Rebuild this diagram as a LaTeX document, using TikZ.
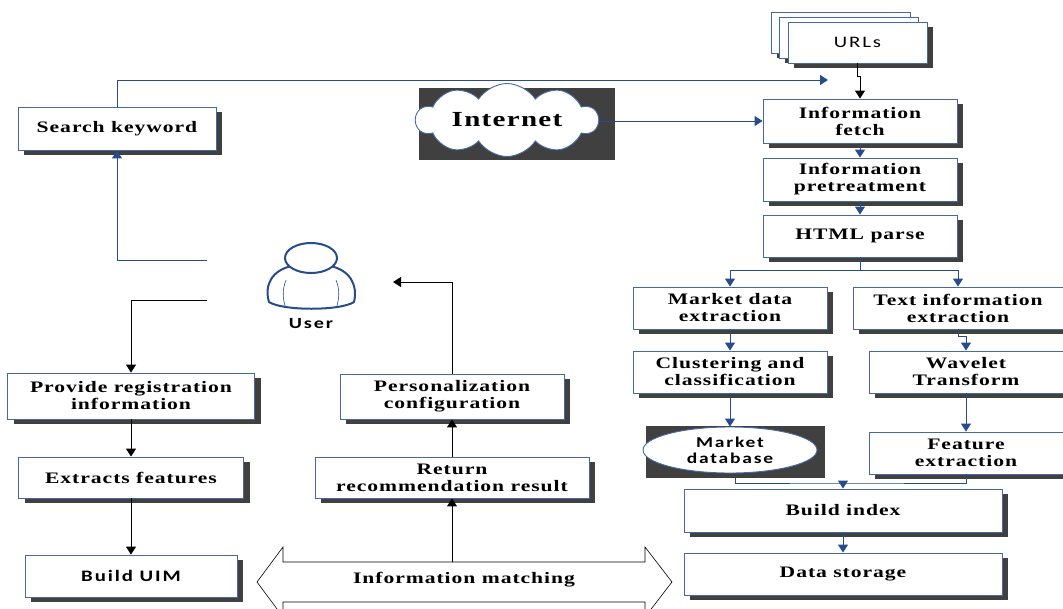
\documentclass[tikz,border=0pt]{standalone}
\usepackage{fontspec}
\setmainfont{Liberation Serif}[FakeStretch=1.35,LetterSpace=6]
\newfontfamily\sfb{Carlito}[FakeStretch=1.3,LetterSpace=12]
\usetikzlibrary{shapes.symbols,shapes.geometric,shadows,arrows.meta}
\definecolor{boxblue}{RGB}{70,105,165}
\definecolor{lineblue}{RGB}{40,75,140}
\definecolor{shade}{RGB}{64,64,64}
\tikzset{
  box/.style={draw=boxblue, line width=0.9pt, fill=white, align=center, inner sep=0pt,
    font=\fontsize{16}{17}\selectfont\bfseries,
    general shadow={fill=shade, shadow xshift=6pt, shadow yshift=-5pt}},
  sbox/.style={box, font=\sfb\fontsize{16}{17}\selectfont\bfseries},
  tip/.style={-{Triangle[width=10pt,length=8pt]}},
  bl/.style={draw=lineblue, line width=1pt, tip},
  bk/.style={draw=black, line width=1pt, tip},
  plainbl/.style={draw=lineblue, line width=1pt},
  darkbg/.style={fill=shade, inner sep=0pt},
}
\begin{document}
\begin{tikzpicture}[x=1pt,y=-1pt]
\useasboundingbox (0,0) rectangle (1063,608);
% URLs stack
\node[box, font=\sfb\fontsize{16}{18}\selectfont, minimum width=139pt, minimum height=41pt] (u1) at (840.5,32.5) {};
\node[box, font=\sfb\fontsize{16}{18}\selectfont, minimum width=139pt, minimum height=41pt] (u2) at (848.5,37.5) {};
\node[box, font=\sfb\fontsize{16}{18}\selectfont, minimum width=139pt, minimum height=41pt] (u3) at (857.5,42.5) {URLs};
% right column
\node[box, minimum width=194pt, minimum height=44pt] (fetch) at (860,121) {Information\\fetch};
\node[box, minimum width=194pt, minimum height=43pt] (pre) at (860,179.5) {Information\\pretreatment};
\node[box, minimum width=194pt, minimum height=42pt] (html) at (860,236) {HTML parse};
\node[box, minimum width=194pt, minimum height=42pt] (mde) at (730,308) {Market data\\extraction};
\node[box, minimum width=210pt, minimum height=42pt] (tie) at (958,308) {Text information\\extraction};
\node[box, minimum width=194pt, minimum height=42pt] (clu) at (730,372) {Clustering and\\classification};
\node[box, minimum width=194pt, minimum height=42pt] (wav) at (966,372) {Wavelet\\Transform};
\node[darkbg, minimum width=179pt, minimum height=52pt] (mdbbg) at (735.5,452) {};
\node[ellipse, draw=boxblue, line width=0.9pt, fill=white, inner sep=0pt, align=center,
  font=\sfb\fontsize{15}{16}\selectfont\bfseries, minimum width=174pt, minimum height=46pt] (mdb) at (730,450) {Market\\database};
\node[box, minimum width=194pt, minimum height=42pt] (fex) at (966,453) {Feature\\extraction};
\node[box, minimum width=318pt, minimum height=43pt] (bidx) at (843,510.5) {Build index};
\node[box, minimum width=318pt, minimum height=42pt] (dst) at (843,574) {Data storage};
% Internet
\node[darkbg, minimum width=196pt, minimum height=72pt] (netbg) at (517,124) {};
\node[cloud, cloud puffs=10, cloud puff arc=115, aspect=3.2, draw=boxblue, line width=0.9pt, fill=white,
  inner sep=0pt, minimum width=182pt, minimum height=60pt, font=\fontsize{21.5}{23}\selectfont\bfseries] (net) at (507,120) {Internet};
% left column
\node[box, minimum width=198pt, minimum height=43pt] (sk) at (117,128.5) {Search keyword};
\node[box, minimum width=247pt, minimum height=46pt] (reg) at (131,396) {Provide registration\\information};
\node[box, minimum width=225pt, minimum height=41pt] (ext) at (131,477.5) {Extracts features};
\node[sbox, minimum width=212pt, minimum height=42pt] (uim) at (131,576) {Build UIM};
% middle column
\node[box, minimum width=224pt, minimum height=45pt] (pers) at (452,396.5) {Personalization\\configuration};
\node[box, minimum width=274pt, minimum height=41pt] (ret) at (452,477.5) {Return\\recommendation result};
% Information matching double arrow
\draw[black, line width=0.6pt, fill=white] (257,582) -- (283,547) -- (283,562) -- (645,562) -- (645,547)
  -- (672,582) -- (645,617) -- (645,602) -- (283,602) -- (283,617) -- cycle;
\node[font=\fontsize{16}{17}\selectfont\bfseries] (match) at (464,580) {Information matching};
\coordinate (mt) at (452,562);
% user icon
\draw[lineblue, line width=2pt, fill=white, line join=round]
  (269,302) .. controls (264,285) and (272,270) .. (292,266) -- (330,266)
  .. controls (350,270) and (358,285) .. (354,302)
  .. controls (340,311) and (283,311) .. (269,302) -- cycle;
\draw[lineblue, line width=0.6pt] (286,280) .. controls (282,290) and (283,298) .. (285,306);
\draw[lineblue, line width=0.6pt] (336,280) .. controls (340,290) and (339,298) .. (337,306);
\draw[lineblue, line width=2pt, fill=white] (311,258) ellipse [x radius=26, y radius=15];
\node[font=\sfb\fontsize{15.5}{17}\selectfont\bfseries] (user) at (311,324) {User};
% connectors
\coordinate (topend) at (828,80);
\draw[bl] (sk.north) |- (topend);
\coordinate (utop) at (857.5,76);
\draw[bk] (u3.south) -- (utop) -| (fetch.north);
\draw[bl] (net.east |- fetch.west) -- (fetch.west);
\draw[bl] (fetch.south) -- (pre.north);
\draw[bl] (pre.south) -- (html.north);
\coordinate (hb) at (860,270);
\draw[plainbl] (html.south) -- (hb);
\draw[bl] (hb) -| (mde.north);
\draw[bl] (hb) -| (tie.north);
\coordinate (tj) at (958,336);
\draw[bl] (tie.south) -- (tj) -| (wav.north);
\draw[bl] (mde.south) -- (clu.north);
\draw[bl] (clu.south) -- (mdb.north);
\draw[bl] (wav.south) -- (fex.south |- fex.north);
\coordinate (jn) at (843,483);
\draw[plainbl] (mdbbg.south) |- (jn) -| (fex.south);
\draw[bl] (jn) -- (bidx.north);
\draw[bl] (bidx.south) -- (dst.north);
% user side
\coordinate (ua) at (207,260);
\draw[bl] (ua) -| (sk.south);
\coordinate (ub) at (207,300);
\draw[bk] (ub) -| (reg.north);
\coordinate (uc) at (393,282);
\draw[bk] (pers.north) |- (uc);
\draw[bk] (reg.south) -- (ext.north);
\draw[bk] (ext.south) -- (uim.north);
\draw[bk] (ret.north) -- (pers.south);
\draw[bk] (mt) -- (ret.south);
\end{tikzpicture}
\end{document}
